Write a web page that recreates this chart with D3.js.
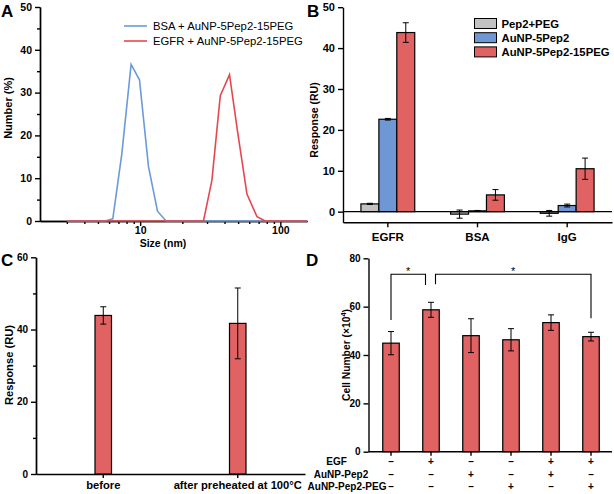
<!DOCTYPE html>
<html><head><meta charset="utf-8">
<script src="https://cdn.jsdelivr.net/npm/d3@7"></script>
<style>
body{margin:0;background:#fff;}
svg{display:block;font-family:"Liberation Sans",Arial,sans-serif;}
.ax path,.ax line{stroke:#000;stroke-width:1.4;}
.ax text{font-weight:bold;fill:#000;}
</style></head><body>
<svg id="c" width="614" height="494"></svg>
<script>
// ---------- DATA ----------
// Panel A (DLS size distribution)
const aSizesBlue = [3, 5.62, 6.38, 7.40, 8.62, 9.89, 11.47, 13.3, 15.3, 155];
const aNumBlue   = [0, 0, 0.5, 15.7, 36.6, 33.0, 12.7, 2.3, 0, 0];
const aSizesRed  = [3, 28.3, 32.5, 37.3, 43.4, 49.5, 57.8, 68.2, 78.1, 155];
const aNumRed    = [0, 0, 9.5, 29.3, 34.2, 21.0, 6.3, 1.0, 0, 0];
const aLegend    = ["BSA + AuNP-5Pep2-15PEG", "EGFR + AuNP-5Pep2-15PEG"];
const aXMajor    = [10, 100];
const aXMinor    = [3,4,5,6,7,8,9,20,30,40,50,60,70,80,90];
const aYTicks    = [0,10,20,30,40,50];
const aYMinor    = [5,15,25,35,45];

// Panel B (SPR response)
const bCategories = ["EGFR", "BSA", "IgG"];
const bSeries     = ["Pep2+PEG", "AuNP-5Pep2", "AuNP-5Pep2-15PEG"];
const bPep2PEG    = [1.9, -0.6, -0.4];
const bPep2PEGErr = [0.15, 1.0, 0.7];
const bAuNP       = [22.6, 0.2, 1.5];
const bAuNPErr    = [0.2, 0.1, 0.35];
const bAuNPPEG    = [43.8, 4.1, 10.5];
const bAuNPPEGErr = [2.4, 1.3, 2.6];
const bYTicks     = [0,10,20,30,40,50];

// Panel C
const cCategories = ["before", "after preheated at 100°C"];
const cValues     = [43.9, 41.7];
const cErr        = [2.4, 9.8];
const cYTicks     = [0,20,40,60];
const cYMinor     = [10,30,50];

// Panel D
const dValues  = [44.9, 58.7, 48.0, 46.3, 53.4, 47.6];
const dErr     = [4.8, 3.1, 7.0, 4.6, 3.2, 1.8];
const dYTicks  = [0,20,40,60,80];
const dRowLabels = ["EGF", "AuNP-Pep2", "AuNP-Pep2-PEG"];
const dRowEGF   = ["–","+","–","–","+","+"];
const dRowPep2  = ["–","–","+","–","+","–"];
const dRowPEG   = ["–","–","–","+","–","+"];
const dSig = [{from:0, to:1, label:"*"}, {from:1, to:5, label:"*"}];

// ---------- STYLE ----------
const BLUE_L = "#6c9ad8", RED_L = "#e4484e";
const GRAY_F = "#c2c2c2", BLUE_F = "#6f97d4", RED_F = "#e06262";
const svg = d3.select("#c");

function errBar(g, x, y0, y1, cap){
  g.append("line").attr("x1",x).attr("x2",x).attr("y1",y0).attr("y2",y1).attr("stroke","#000").attr("stroke-width",1);
  g.append("line").attr("x1",x-cap).attr("x2",x+cap).attr("y1",y0).attr("y2",y0).attr("stroke","#000").attr("stroke-width",1);
  g.append("line").attr("x1",x-cap).attr("x2",x+cap).attr("y1",y1).attr("y2",y1).attr("stroke","#000").attr("stroke-width",1);
}
function letter(t,x,y){
  svg.append("text").attr("x",x).attr("y",y).text(t).attr("font-size",17).attr("font-weight","bold");
}
function vtitle(t,x,y,fs){
  svg.append("text").attr("transform",`translate(${x},${y}) rotate(-90)`).attr("text-anchor","middle")
    .attr("font-size",fs).attr("font-weight","bold").text(t);
}

// ---------- PANEL A ----------
{
  const x = d3.scaleLog().domain([1.93,155]).range([40,307]);
  const y = d3.scaleLinear().domain([0,50]).range([221,7]);
  const g = svg.append("g");
  g.append("g").attr("class","ax").attr("transform","translate(0,221)")
    .call(d3.axisBottom(x).tickValues(aXMinor).tickSize(3).tickSizeOuter(0).tickFormat(""));
  g.append("g").attr("class","ax").attr("transform","translate(0,221)")
    .call(d3.axisBottom(x).tickValues(aXMajor).tickSize(5).tickSizeOuter(0).tickFormat(d3.format("d")))
    .selectAll("text").attr("font-size",10.5).attr("dy","0.5em");
  g.append("g").attr("class","ax").attr("transform","translate(40,0)")
    .call(d3.axisLeft(y).tickValues(aYMinor).tickSize(3).tickSizeOuter(0).tickFormat(""));
  g.append("g").attr("class","ax").attr("transform","translate(40,0)")
    .call(d3.axisLeft(y).tickValues(aYTicks).tickSize(5).tickSizeOuter(0))
    .selectAll("text").attr("font-size",10.5);
  const line = d3.line().x(d=>x(d[0])).y(d=>y(d[1]));
  g.append("path").datum(d3.zip(aSizesBlue,aNumBlue)).attr("d",line).attr("fill","none").attr("stroke",BLUE_L).attr("stroke-width",1.6);
  g.append("path").datum(d3.zip(aSizesRed,aNumRed)).attr("d",line).attr("fill","none").attr("stroke",RED_L).attr("stroke-width",1.6);
  [BLUE_L,RED_L].forEach((c,i)=>{
    g.append("line").attr("x1",124).attr("x2",147).attr("y1",26+i*15).attr("y2",26+i*15).attr("stroke",c).attr("stroke-width",1.6);
    g.append("text").attr("x",153).attr("y",30+i*15).attr("font-size",11.3).text(aLegend[i]);
  });
  g.append("text").attr("x",163).attr("y",247).attr("text-anchor","middle").attr("font-size",10.5).attr("font-weight","bold").text("Size (nm)");
  vtitle("Number (%)",12,108,11);
  letter("A",1,17);
}

// ---------- PANEL B ----------
{
  const x = d3.scaleBand().domain(bCategories).range([343,612]);
  const y = d3.scaleLinear().domain([-2.6,50]).range([222.3,7.2]);
  const g = svg.append("g");
  g.append("g").attr("class","ax").attr("transform","translate(343,0)")
    .call(d3.axisLeft(y).tickValues(bYTicks).tickSize(5).tickSizeOuter(0))
    .selectAll("text").attr("font-size",11);
  g.append("g").attr("class","ax").attr("transform","translate(0,222.3)")
    .call(d3.axisBottom(x).tickSize(5).tickSizeOuter(0))
    .selectAll("text").attr("font-size",11.5).attr("dy","0.9em");
  const series = [[bPep2PEG,bPep2PEGErr,GRAY_F],[bAuNP,bAuNPErr,BLUE_F],[bAuNPPEG,bAuNPPEGErr,RED_F]];
  const sub = d3.scaleBand().domain(bSeries).range([0,x.bandwidth()*0.6]);
  const off = x.bandwidth()*0.2;
  series.forEach((s,si)=>{
    bCategories.forEach((c,ci)=>{
      const v=s[0][ci], e=s[1][ci];
      const bx = x(c)+off+sub(bSeries[si]);
      g.append("rect").attr("x",bx).attr("width",sub.bandwidth())
        .attr("y",Math.min(y(v),y(0))).attr("height",Math.abs(y(v)-y(0)))
        .attr("fill",s[2]).attr("stroke","#000").attr("stroke-width",1.2);
      errBar(g,bx+sub.bandwidth()/2,y(v+e),y(v-e),3);
    });
  });
  g.append("line").attr("x1",343).attr("x2",612).attr("y1",y(0)).attr("y2",y(0)).attr("stroke","#000").attr("stroke-width",1.4);
  // legend
  [GRAY_F,BLUE_F,RED_F].forEach((c,i)=>{
    g.append("rect").attr("x",474.5).attr("y",18.5+i*14.2).attr("width",22).attr("height",10)
      .attr("fill",c).attr("stroke","#000").attr("stroke-width",1);
    g.append("text").attr("x",501.5).attr("y",27.5+i*14.2).attr("font-size",11.3).attr("font-weight","bold").text(bSeries[i]);
  });
  vtitle("Response (RU)",318,120,10.5);
  letter("B",307,17);
}

// ---------- PANEL C ----------
{
  const x = d3.scaleBand().domain(cCategories).range([36,305]);
  const y = d3.scaleLinear().domain([0,60]).range([474,257.3]);
  const g = svg.append("g");
  g.append("g").attr("class","ax").attr("transform","translate(36,0)")
    .call(d3.axisLeft(y).tickValues(cYMinor).tickSize(3).tickSizeOuter(0).tickFormat(""));
  g.append("g").attr("class","ax").attr("transform","translate(36,0)")
    .call(d3.axisLeft(y).tickValues(cYTicks).tickSize(5).tickSizeOuter(0))
    .selectAll("text").attr("font-size",10).attr("font-weight","normal");
  g.append("g").attr("class","ax").attr("transform","translate(0,474)")
    .call(d3.axisBottom(x).tickSize(4).tickSizeOuter(0))
    .selectAll("text").attr("font-size",11.2).attr("dy","0.75em");
  const bw = 16.5;
  cCategories.forEach((c,i)=>{
    const cx = x(c)+x.bandwidth()/2;
    g.append("rect").attr("x",cx-bw/2).attr("width",bw).attr("y",y(cValues[i])).attr("height",y(0)-y(cValues[i]))
      .attr("fill",RED_F).attr("stroke","#000").attr("stroke-width",1.2);
    errBar(g,cx,y(cValues[i]+cErr[i]),y(cValues[i]-cErr[i]),3);
  });
  vtitle("Response (RU)",13,365,11.2);
  letter("C",1,266);
}

// ---------- PANEL D ----------
{
  const cats = d3.range(dValues.length);
  const x = d3.scaleBand().domain(cats).range([371,611]);
  const y = d3.scaleLinear().domain([0,80]).range([451.7,258.3]);
  const g = svg.append("g");
  g.append("g").attr("class","ax").attr("transform","translate(368.5,0)")
    .call(d3.axisLeft(y).tickValues(dYTicks).tickSize(5).tickSizeOuter(0))
    .selectAll("text").attr("font-size",10);
  const xa = g.append("g").attr("class","ax").attr("transform","translate(0,451.7)")
    .call(d3.axisBottom(x).tickSize(4).tickSizeOuter(0).tickFormat(""));
  xa.select(".domain").attr("d","M368.5,0H612");
  const bw = 16.5;
  cats.forEach(i=>{
    const cx = x(i)+x.bandwidth()/2;
    g.append("rect").attr("x",cx-bw/2).attr("width",bw).attr("y",y(dValues[i])).attr("height",y(0)-y(dValues[i]))
      .attr("fill",RED_F).attr("stroke","#000").attr("stroke-width",1.2);
    errBar(g,cx,y(dValues[i]+dErr[i]),y(dValues[i]-dErr[i]),3);
  });
  // significance brackets
  const top = y(73.4);
  const legs = [[y(54.5),y(69)],[y(69.3),y(55.2)]];
  dSig.forEach((s,k)=>{
    const x1 = x(s.from)+x.bandwidth()/2 + (k===1?4.5:0);
    const x2 = x(s.to)+x.bandwidth()/2 - (k===0?5.5:0);
    g.append("path").attr("d",`M${x1},${legs[k][0]}V${top}H${x2}V${legs[k][1]}`)
      .attr("fill","none").attr("stroke","#000").attr("stroke-width",1.1);
    g.append("text").attr("x",(x1+x2)/2).attr("y",top+0.5).attr("text-anchor","middle").attr("font-size",11).text(s.label);
  });
  // row labels and signs
  const rows=[dRowEGF,dRowPep2,dRowPEG];
  const rowY=[465,477.5,489.5];
  const labX=[336.5,341,347];
  rows.forEach((r,ri)=>{
    g.append("text").attr("x",labX[ri]).attr("y",rowY[ri]).attr("text-anchor","middle")
      .attr("font-size",10).attr("font-weight","bold").text(dRowLabels[ri]);
    r.forEach((s,i)=>{
      g.append("text").attr("x",x(i)+x.bandwidth()/2).attr("y",rowY[ri]).attr("text-anchor","middle")
        .attr("font-size",10).attr("font-weight","bold").text(s);
    });
  });
  const t = svg.append("text").attr("transform","translate(350,355) rotate(-90)").attr("text-anchor","middle")
    .attr("font-size",10.3).attr("font-weight","bold");
  t.append("tspan").text("Cell Number (×10");
  t.append("tspan").attr("font-size",7.5).attr("dy",-4).text("4");
  t.append("tspan").attr("dy",4).text(")");
  letter("D",306,266);
}
</script></body></html>
